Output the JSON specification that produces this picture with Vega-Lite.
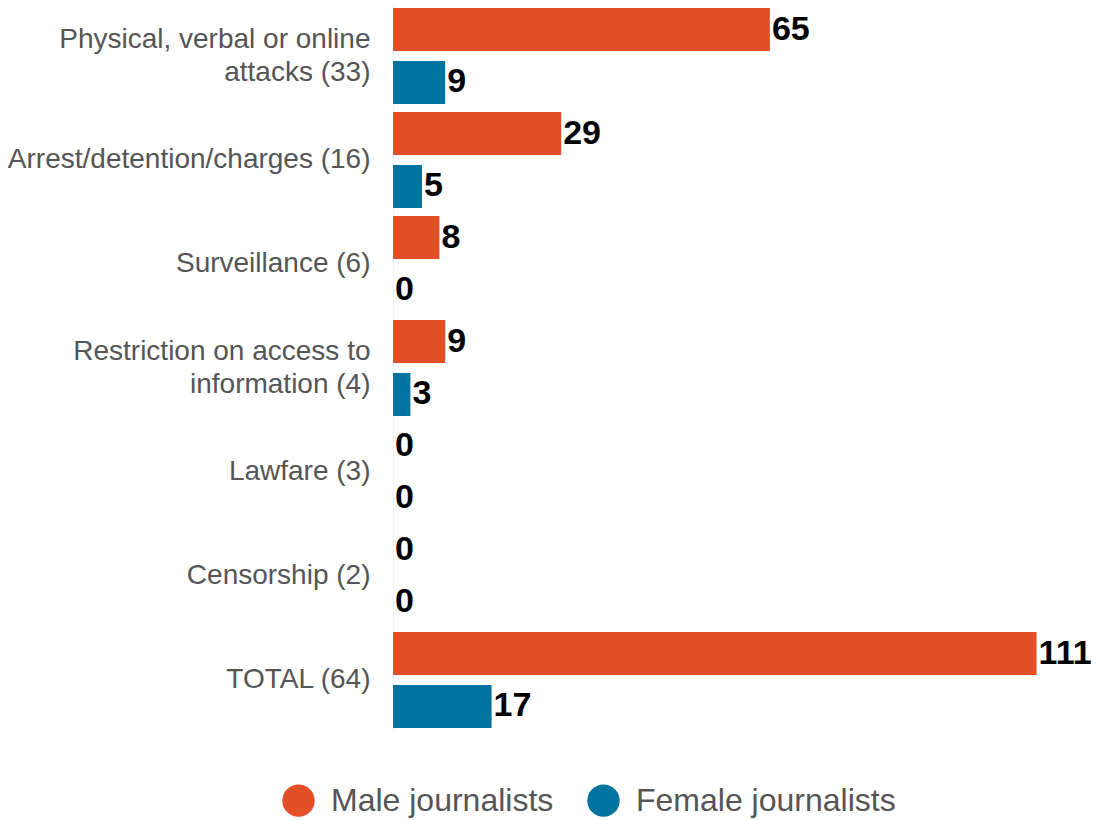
{
  "$schema": "https://vega.github.io/schema/vega-lite/v6.json",
  "width": 661,
  "height": 728,
  "autosize": {"type": "none"},
  "padding": {"left": 393, "top": 4, "right": 45, "bottom": 88},
  "background": "white",
  "config": {"view": {"stroke": null}, "font": "Liberation Sans"},
  "data": {
    "values": [
      {"category": "Physical, verbal or online attacks (33)", "gender": "Male journalists", "value": 65},
      {"category": "Physical, verbal or online attacks (33)", "gender": "Female journalists", "value": 9},
      {"category": "Arrest/detention/charges (16)", "gender": "Male journalists", "value": 29},
      {"category": "Arrest/detention/charges (16)", "gender": "Female journalists", "value": 5},
      {"category": "Surveillance (6)", "gender": "Male journalists", "value": 8},
      {"category": "Surveillance (6)", "gender": "Female journalists", "value": 0},
      {"category": "Restriction on access to information (4)", "gender": "Male journalists", "value": 9},
      {"category": "Restriction on access to information (4)", "gender": "Female journalists", "value": 3},
      {"category": "Lawfare (3)", "gender": "Male journalists", "value": 0},
      {"category": "Lawfare (3)", "gender": "Female journalists", "value": 0},
      {"category": "Censorship (2)", "gender": "Male journalists", "value": 0},
      {"category": "Censorship (2)", "gender": "Female journalists", "value": 0},
      {"category": "TOTAL (64)", "gender": "Male journalists", "value": 111},
      {"category": "TOTAL (64)", "gender": "Female journalists", "value": 17}
    ]
  },
  "encoding": {
    "y": {
      "field": "category",
      "type": "nominal",
      "sort": null,
      "scale": {"paddingInner": 0.077, "paddingOuter": 0.0385},
      "axis": {
        "title": null,
        "ticks": false,
        "domain": true,
        "domainColor": "#f2f2f2",
        "labelFontSize": 28,
        "labelColor": "#555555",
        "labelPadding": 23,
        "labelLineHeight": 33,
        "labelLimit": 0,
        "labelOffset": {"condition": {"test": "indexof(datum.value, 'Physical') == 0 || indexof(datum.value, 'Restriction') == 0", "value": -16}, "value": 0},
        "labelExpr": "datum.value == 'Physical, verbal or online attacks (33)' ? ['Physical, verbal or online', 'attacks (33)'] : datum.value == 'Restriction on access to information (4)' ? ['Restriction on access to', 'information (4)'] : datum.value"
      }
    },
    "yOffset": {
      "field": "gender",
      "type": "nominal",
      "sort": ["Male journalists", "Female journalists"],
      "scale": {"paddingInner": 0.1887, "paddingOuter": 0}
    },
    "x": {
      "field": "value",
      "type": "quantitative",
      "scale": {"domain": [0, 114]},
      "axis": null
    }
  },
  "layer": [
    {
      "mark": {"type": "bar"},
      "encoding": {
        "color": {
          "field": "gender",
          "type": "nominal",
          "scale": {"domain": ["Male journalists", "Female journalists"], "range": ["#E34F26", "#0073A1"]},
          "legend": {
            "title": null,
            "orient": "none",
            "direction": "horizontal",
            "legendX": -111,
            "legendY": 780,
            "symbolType": "circle",
            "symbolSize": 1050,
            "symbolStrokeWidth": 0,
            "labelFontSize": 32,
            "labelColor": "#555555",
            "labelOffset": 16,
            "labelLimit": 0,
            "columnPadding": 33
          }
        }
      }
    },
    {
      "mark": {"type": "text", "align": "left", "baseline": "middle", "dx": 2, "fontSize": 34, "fontWeight": "bold", "color": "#000000"},
      "encoding": {"text": {"field": "value", "type": "quantitative"}}
    }
  ]
}
